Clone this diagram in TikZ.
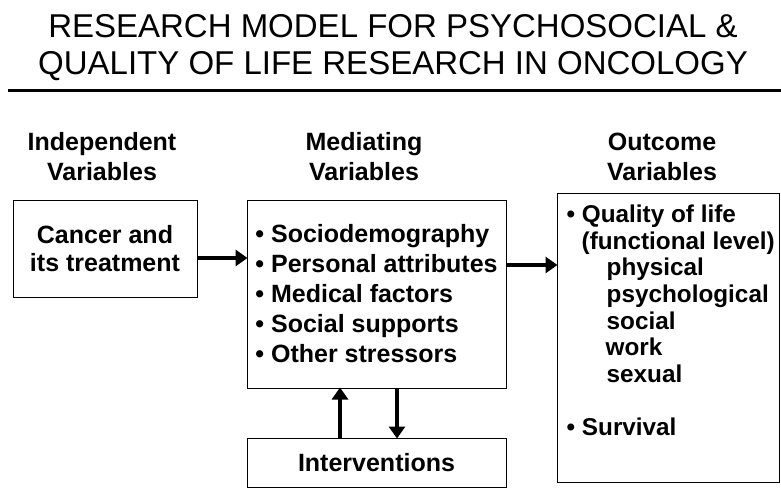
\documentclass[tikz,border=0pt]{standalone}
\usepackage{fontspec}
\setmainfont{Liberation Sans}
\usetikzlibrary{arrows.meta}
\usetikzlibrary{positioning}
\tikzset{
    var box/.style={
        draw,
        line width=1pt,
        inner sep=0,
    },
    heading/.style={
        align=center,
        font=\fontsize{25}{30}\selectfont\bfseries,
    },
    box text/.style={
        align=left,
        inner sep=0,
        font=\fontsize{25}{30}\selectfont\bfseries,
    },
    flow arrow/.style={
        line width=4.5pt,
        -{Triangle[length=12pt,width=16pt]},
        shorten >=-1pt,
    },
}

\begin{document}
\begin{tikzpicture}[x=1pt,y=-1pt]
    \useasboundingbox (0,0) rectangle (781,489);

    % title and rule
    \node[align=center, font=\fontsize{33}{37}\selectfont] (title) at (393,48)
        {RESEARCH MODEL FOR PSYCHOSOCIAL \&\\QUALITY OF LIFE RESEARCH IN ONCOLOGY};
    \coordinate (ruleL) at (8,91);
    \coordinate (ruleR) at (781,91);
    \draw[line width=3pt] (ruleL) -- (ruleR);

    % column headings
    \node[heading] (indephead) at (102,157) {Independent\\Variables};
    \node[heading] (medhead) at (364,157) {Mediating\\Variables};
    \node[heading] (outhead) at (662,157) {Outcome\\Variables};

    % boxes
    \node[var box, minimum width=184pt, minimum height=97pt, box text, align=center,
        font=\fontsize{25}{28}\selectfont\bfseries] (cancer) at (105,248.5)
        {Cancer and\\its treatment};
    \node[var box, minimum width=259pt, minimum height=188pt, box text] (mediating) at (376.5,294)
        {\textbullet\ Sociodemography\\
         \textbullet\ Personal attributes\\
         \textbullet\ Medical factors\\
         \textbullet\ Social supports\\
         \textbullet\ Other stressors};
    \node[var box, minimum width=259pt, minimum height=49pt, box text] (interventions) at (376.5,462.5)
        {Interventions};
    \node[var box, minimum width=222pt, minimum height=289pt] (outcome) at (668,337.5) {};
    \node[box text, anchor=north west, font=\fontsize{24.3}{26.7}\selectfont\bfseries]
        (outcometext) at ([xshift=10pt,yshift=-12pt]outcome.north west)
        {\textbullet\ Quality of life\\
         \hspace*{15pt}(functional level)\\
         \hspace*{40pt}physical\\
         \hspace*{40pt}psychological\\
         \hspace*{40pt}social\\
         \hspace*{39pt}work\\
         \hspace*{40pt}sexual\\[26.7pt]
         \textbullet\ Survival};

    % arrows
    \coordinate (c1) at ([yshift=-9.5pt]cancer.east);
    \draw[flow arrow] (c1) -- (c1 -| mediating.west);
    \coordinate (c2) at ([yshift=29pt]mediating.east);
    \draw[flow arrow] (c2) -- (c2 -| outcome.west);
    \draw[flow arrow] ([xshift=-36.5pt]interventions.north) -- ([xshift=-36.5pt]mediating.south);
    \draw[flow arrow] ([xshift=20.5pt]mediating.south) -- ([xshift=20.5pt]interventions.north);

\end{tikzpicture}
\end{document}
